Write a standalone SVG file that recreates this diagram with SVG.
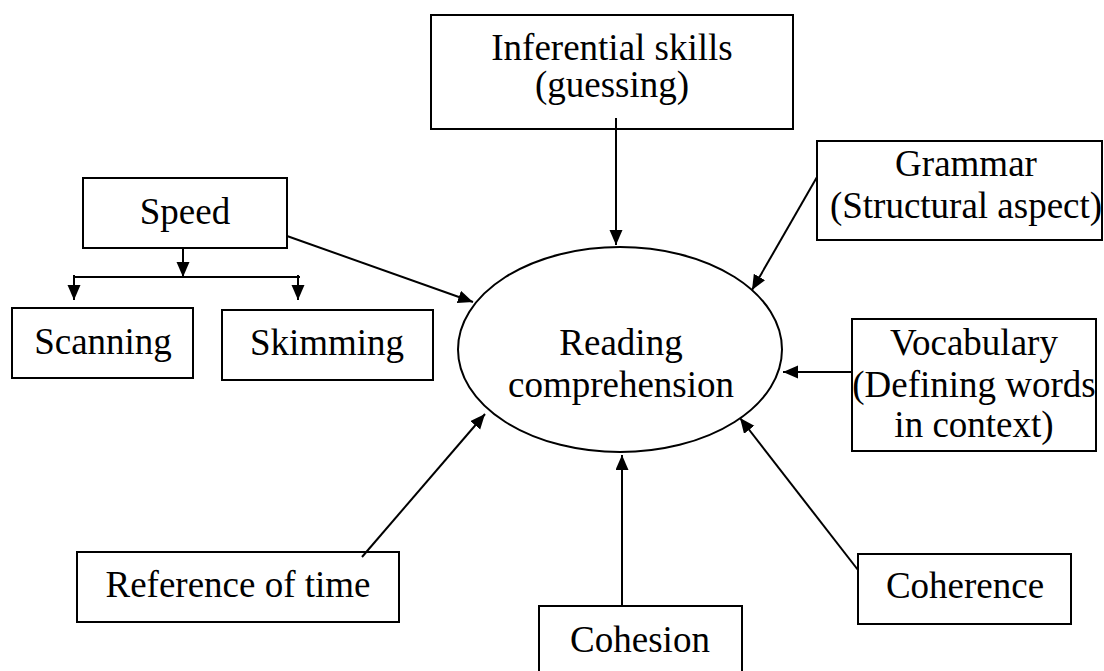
<svg xmlns="http://www.w3.org/2000/svg" width="1104" height="671" viewBox="0 0 1104 671">
<style>
.box{fill:#fff;stroke:#000;stroke-width:2}
.t{font-size:37px;fill:#000;text-anchor:middle}
.c{stroke:#000;stroke-width:2;fill:none}
.a{marker-end:url(#arr)}
</style>
<defs>
<marker id="arr" markerUnits="userSpaceOnUse" markerWidth="16" markerHeight="14" refX="15" refY="6.5" orient="auto">
<path d="M0,0 L15,6.5 L0,13 z" fill="#000"/>
</marker>
</defs>
<rect width="1104" height="671" fill="#fff"/>
<g font-family="'Liberation Serif', 'Times New Roman', Times, serif">
<g id="inferential">
<rect class="box" x="431" y="15" width="362" height="114"/>
<text class="t" x="612" y="60">Inferential skills</text>
<text class="t" x="612" y="97">(guessing)</text>
</g>
<g id="grammar">
<rect class="box" x="817" y="141" width="285" height="99"/>
<text class="t" x="966" y="176">Grammar</text>
<text class="t" x="966" y="218">(Structural aspect)</text>
</g>
<g id="speed">
<rect class="box" x="83" y="178" width="204" height="70"/>
<text class="t" x="185" y="224">Speed</text>
</g>
<g id="scanning">
<rect class="box" x="12" y="308" width="181" height="70"/>
<text class="t" x="103" y="354">Scanning</text>
</g>
<g id="skimming">
<rect class="box" x="222" y="310" width="211" height="70"/>
<text class="t" x="327" y="355">Skimming</text>
</g>
<g id="reading">
<ellipse class="box" cx="620" cy="349.5" rx="162" ry="102.5"/>
<text class="t" x="621" y="355">Reading</text>
<text class="t" x="621" y="397">comprehension</text>
</g>
<g id="vocabulary">
<rect class="box" x="852" y="319" width="244" height="132"/>
<text class="t" x="974" y="355">Vocabulary</text>
<text class="t" x="974" y="397">(Defining words</text>
<text class="t" x="974" y="437">in context)</text>
</g>
<g id="reference">
<rect class="box" x="77" y="552" width="322" height="70"/>
<text class="t" x="238" y="597">Reference of time</text>
</g>
<g id="cohesion">
<rect class="box" x="539" y="606" width="203" height="80"/>
<text class="t" x="640" y="652">Cohesion</text>
</g>
<g id="coherence">
<rect class="box" x="858" y="554" width="213" height="70"/>
<text class="t" x="965" y="598">Coherence</text>
</g>
</g>
<g id="connectors">
<line class="c a" x1="616" y1="118" x2="616" y2="245"/>
<line class="c a" x1="817" y1="177" x2="752" y2="290"/>
<line class="c a" x1="287" y1="236" x2="473" y2="302"/>
<line class="c a" x1="852" y1="372" x2="783" y2="372"/>
<line class="c a" x1="858" y1="570" x2="740" y2="418"/>
<line class="c a" x1="622" y1="606" x2="622" y2="455"/>
<line class="c a" x1="362" y1="557" x2="485" y2="414"/>
<line class="c a" x1="183" y1="248" x2="183" y2="277"/>
<line class="c" x1="74" y1="277" x2="300" y2="277"/>
<line class="c a" x1="74" y1="275" x2="74" y2="300"/>
<line class="c a" x1="298" y1="275" x2="298" y2="300"/>
</g>
</svg>
